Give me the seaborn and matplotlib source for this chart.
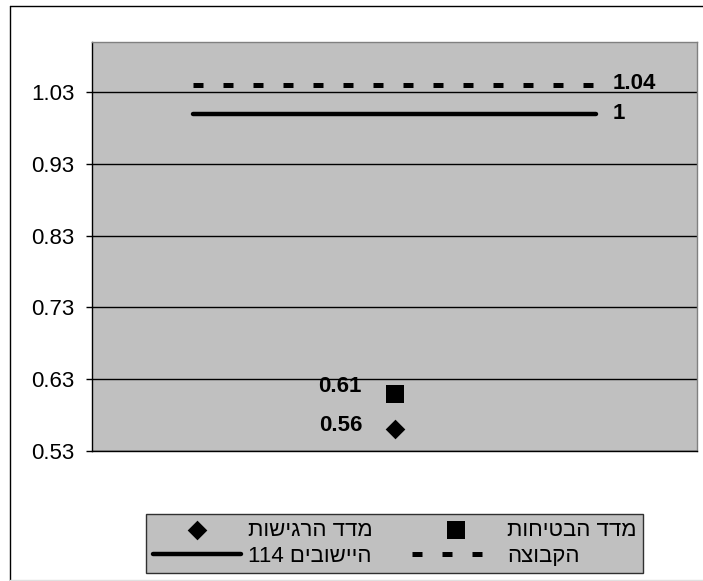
import matplotlib
matplotlib.use("Agg")
import matplotlib.pyplot as plt
import seaborn as sns
from matplotlib.lines import Line2D
from matplotlib.font_manager import FontProperties

# Values
positions = [0, 1, 2]
group_values = [1.04, 1.04, 1.04]
towns_values = [1.00, 1.00, 1.00]
marker_pos = [1]
safety_value = [0.61]
sensitivity_value = [0.56]
yticks = [0.53, 0.63, 0.73, 0.83, 0.93, 1.03]

# Legend labels (logical Hebrew order)
group_label = "הקבוצה"
towns_label = "היישובים 114"
safety_label = "מדד הבטיחות"
sensitivity_label = "מדד הרגישות"


def visual(text):
    """Reorder a right-to-left string for left-to-right rendering."""
    words = text.split(" ")
    out = []
    for w in reversed(words):
        if any("\u0590" <= c <= "\u05FF" for c in w):
            out.append(w[::-1])
        else:
            out.append(w)
    return " ".join(out)


sns.set_style("white")
plt.rcParams["font.family"] = ["Liberation Sans", "DejaVu Sans"]
plt.rcParams["text.color"] = "black"
plt.rcParams["ytick.color"] = "black"
plt.rcParams["ytick.labelcolor"] = "black"

W, H = 703, 581
fig = plt.figure(figsize=(W / 100, H / 100), dpi=100)
fig.patch.set_facecolor("white")
ax = fig.add_axes([92 / W, (H - 451) / H, (697 - 92) / W, (451 - 42) / H])
ax.set_facecolor("#C0C0C0")

sns.lineplot(x=positions, y=group_values, ax=ax, color="black", lw=3.6,
             linestyle=(0, (2, 4)), dash_capstyle="butt",
             label=visual(group_label), zorder=3)
sns.lineplot(x=positions, y=towns_values, ax=ax, color="black", lw=3.2,
             solid_capstyle="round", label=visual(towns_label), zorder=3)
sns.scatterplot(x=marker_pos, y=safety_value, ax=ax, marker="s", s=185,
                color="black", edgecolor="black", linewidth=0,
                label=visual(safety_label), zorder=4)
sns.scatterplot(x=marker_pos, y=sensitivity_value, ax=ax, marker="D", s=100,
                color="black", edgecolor="black", linewidth=0,
                label=visual(sensitivity_label), zorder=4)

# Value labels
label_kw = dict(textcoords="offset points", va="center", fontsize=16,
                fontweight="bold", color="black")
ax.annotate(f"{group_values[-1]:g}", (positions[-1], group_values[-1]),
            xytext=(12, 1), ha="left", **label_kw)
ax.annotate(f"{towns_values[-1]:g}", (positions[-1], towns_values[-1]),
            xytext=(12, 0), ha="left", **label_kw)
ax.annotate(f"{safety_value[0]:g}", (marker_pos[0], safety_value[0]),
            xytext=(-24, 5), ha="right", **label_kw)
ax.annotate(f"{sensitivity_value[0]:g}", (marker_pos[0], sensitivity_value[0]),
            xytext=(-23, 3), ha="right", **label_kw)

ax.set_xlim(-0.5, 2.5)
ax.set_ylim(0.53, 1.1)
ax.set_yticks(yticks)
ax.set_yticklabels([f"{v:.2f}" for v in yticks])
ax.set_xticks([])
ax.set_xlabel("")
ax.set_ylabel("")
ax.yaxis.grid(True, color="black", lw=1)
ax.xaxis.grid(False)
ax.set_axisbelow(True)
ax.tick_params(axis="y", direction="out", length=4.5, width=1, pad=8,
               labelsize=16, colors="black", left=True)
for side in ["left", "bottom"]:
    ax.spines[side].set_color("black")
    ax.spines[side].set_linewidth(1)
for side in ["top", "right"]:
    ax.spines[side].set_color("#808080")
    ax.spines[side].set_linewidth(1)

# Legend: two columns, right-to-left reading order, stretched to its box
handles, labels = ax.get_legend_handles_labels()
lookup = dict(zip(labels, handles))
order = [visual(sensitivity_label), visual(towns_label),
         visual(safety_label), visual(group_label)]
leg = ax.legend([lookup[k] for k in order], order, ncol=2, mode="expand",
                loc="center",
                bbox_to_anchor=(146 / W, (H - 575) / H, (643 - 146) / W, 63 / H),
                bbox_transform=fig.transFigure,
                prop=FontProperties(family=["Liberation Sans", "DejaVu Sans"], size=16),
                handlelength=3.96, handletextpad=0.32, columnspacing=0.6,
                labelspacing=0.2, borderpad=0.3, borderaxespad=0, fancybox=False,
                frameon=True, framealpha=1, facecolor="#C0C0C0",
                edgecolor="#303030")
leg.get_frame().set_linewidth(1)
for t in leg.get_texts():
    t.set_color("black")

# Outer chart border
fig.add_artist(Line2D([9.5 / W, 9.5 / W], [0, 1 - 5.5 / H], color="black", lw=1,
                      transform=fig.transFigure))
fig.add_artist(Line2D([9.5 / W, 1], [1 - 5.5 / H, 1 - 5.5 / H], color="black", lw=1,
                      transform=fig.transFigure))
fig.add_artist(Line2D([9.5 / W, 1], [1.5 / H, 1.5 / H], color="#E0E0E0", lw=1,
                      transform=fig.transFigure))

fig.savefig("out.png", dpi=100, facecolor="white")
